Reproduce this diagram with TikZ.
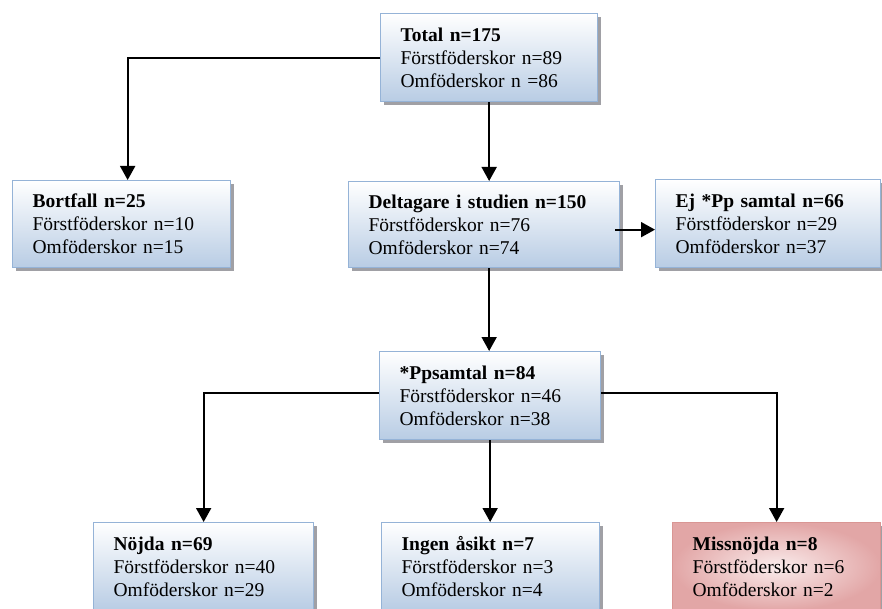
\documentclass[tikz,border=0pt]{standalone}
\usepackage{fontspec}
\setmainfont{Liberation Serif}
\usetikzlibrary{arrows.meta,shadows,calc}
\definecolor{boxblue}{RGB}{184,204,228}
\definecolor{boxborder}{RGB}{149,179,215}
\definecolor{pinkin}{RGB}{250,236,236}
\definecolor{pinkout}{RGB}{226,166,166}
\definecolor{pinkborder}{RGB}{217,150,148}
\definecolor{shadowgray}{RGB}{160,160,165}
\tikzset{
  box/.style={draw=boxborder, line width=1.3pt, top color=white, bottom color=boxblue,
    anchor=north west, inner xsep=20pt, inner ysep=0pt, align=left,
    font=\fontsize{19.5}{23}\selectfont,
    general shadow={fill=shadowgray, shadow xshift=3.5pt, shadow yshift=-3.5pt}},
  redbox/.style={box, draw=pinkborder, inner color=pinkin, outer color=pinkout},
  arr/.style={line width=1.8pt, -{Triangle[length=14pt,width=15pt]}},
}
\begin{document}
\begin{tikzpicture}[x=1pt,y=-1pt]
\useasboundingbox (0,0) rectangle (882,609);
\clip (0,0) rectangle (882,609);

\node[box, text width=177pt, minimum height=88pt] (tot) at (380,13)
  {\textbf{Total n=175}\\Förstföderskor n=89\\Omföderskor n =86};
\node[box, text width=178pt, minimum height=87pt] (bort) at (12,180)
  {\textbf{Bortfall n=25}\\Förstföderskor n=10\\Omföderskor n=15};
\node[box, text width=231pt, minimum height=86pt] (delt) at (348,181)
  {\textbf{Deltagare i studien n=150}\\Förstföderskor n=76\\Omföderskor n=74};
\node[box, text width=185pt, minimum height=88pt] (ej) at (655,179)
  {\textbf{Ej *Pp samtal n=66}\\Förstföderskor n=29\\Omföderskor n=37};
\node[box, text width=181pt, minimum height=88pt] (pp) at (379,351)
  {\textbf{*Ppsamtal n=84}\\Förstföderskor n=46\\Omföderskor n=38};
\node[box, text width=180pt, minimum height=88pt] (noj) at (93,522)
  {\textbf{Nöjda n=69}\\Förstföderskor n=40\\Omföderskor n=29};
\node[box, text width=178pt, minimum height=88pt] (ing) at (381,522)
  {\textbf{Ingen åsikt n=7}\\Förstföderskor n=3\\Omföderskor n=4};
\node[redbox, text width=168pt, minimum height=88pt] (miss) at (672,522)
  {\textbf{Missnöjda n=8}\\Förstföderskor n=6\\Omföderskor n=2};

\draw[arr] (tot.west) -| ([xshift=6pt]bort.north);
\draw[arr] (tot.south) -- (tot.south |- delt.north);
\draw[arr] (tot.south |- delt.south) -- (tot.south |- pp.north);
\draw[arr] ([xshift=-5pt,yshift=-5pt]delt.east) -- ([yshift=-5pt]delt.east -| ej.west);
\draw[arr] ([yshift=3pt]pp.west) -| (noj.north);
\draw[arr] (pp.south) -- (pp.south |- ing.north);
\draw[arr] ([yshift=3pt]pp.east) -| (miss.north);
\end{tikzpicture}
\end{document}
